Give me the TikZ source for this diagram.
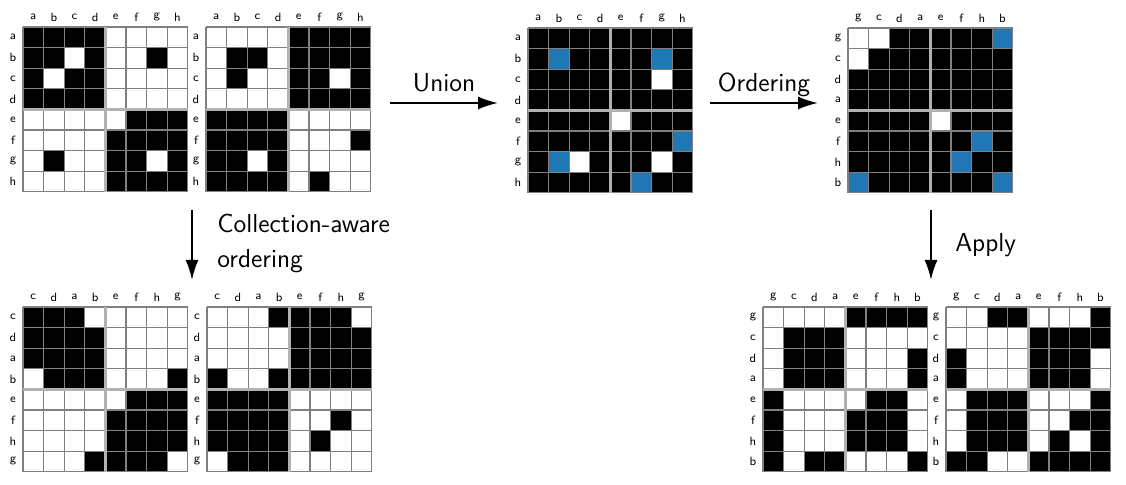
\documentclass[tikz,border=0pt]{standalone}
\usetikzlibrary{arrows.meta}
\definecolor{mplblue}{HTML}{1F77B4}
\tikzset{
  lbl/.style={font=\sffamily\fontsize{6}{7}\selectfont, inner sep=0pt},
  txt/.style={font=\sffamily\fontsize{13}{17.5}\selectfont, inner sep=0pt},
  cell0/.style={fill=white},
  cell1/.style={fill=black},
  cell2/.style={fill=mplblue},
  gridline/.style={gray, line width=0.6pt},
  midline/.style={gray!60, line width=1.2pt},
  bigarrow/.style={line width=1pt, -{Latex[length=10pt,width=6.5pt]}}
}
% name, x, y, labels, cells
\newcommand{\drawgrid}[5]{%
  \foreach \l [count=\k from 0] in {#4} {
    \node[lbl] (#1-c\k) at (#2+\k*20.6+10.3, #3-10) {\l};
    \node[lbl] (#1-r\k) at (#2-10, #3+\k*20.6+10.3) {\l};
  }
  \foreach \v [count=\i from 0] in {#5} {
    \pgfmathtruncatemacro\rr{\i/8}
    \pgfmathtruncatemacro\cc{\i-8*\rr}
    \fill[cell\v] (#2+\cc*20.6, #3+\rr*20.6) rectangle ++(20.6,20.6);
  }
  \foreach \k in {0,...,8} {
    \draw[gridline] (#2+\k*20.6, #3) -- ++(0,164.8);
    \draw[gridline] (#2, #3+\k*20.6) -- ++(164.8,0);
  }
  \draw[midline] (#2+82.4, #3) -- ++(0,164.8);
  \draw[midline] (#2, #3+82.4) -- ++(164.8,0);
}
\begin{document}
\begin{tikzpicture}[x=0.5pt, y=-0.5pt]
    \useasboundingbox (0,0) rectangle (1126,485);
    % input matrices
    \drawgrid{lhs}{23}{27}{a,b,c,d,e,f,g,h}{
      1,1,1,1,0,0,0,0, 1,1,0,1,0,0,1,0, 1,0,1,1,0,0,0,0, 1,1,1,1,0,0,0,0,
      0,0,0,0,0,1,1,1, 0,0,0,0,1,1,1,1, 0,1,0,0,1,1,0,1, 0,0,0,0,1,1,1,1}
    \drawgrid{rhs}{206}{27}{a,b,c,d,e,f,g,h}{
      0,0,0,0,1,1,1,1, 0,1,1,0,1,1,1,1, 0,1,0,0,1,1,0,1, 0,0,0,0,1,1,1,1,
      1,1,1,1,0,0,0,0, 1,1,1,1,0,0,0,1, 1,1,0,1,0,0,0,0, 1,1,1,1,0,1,0,0}
    % union and ordering
    \drawgrid{union}{528}{28}{a,b,c,d,e,f,g,h}{
      1,1,1,1,1,1,1,1, 1,2,1,1,1,1,2,1, 1,1,1,1,1,1,0,1, 1,1,1,1,1,1,1,1,
      1,1,1,1,0,1,1,1, 1,1,1,1,1,1,1,2, 1,2,0,1,1,1,0,1, 1,1,1,1,1,2,1,1}
    \drawgrid{order}{848}{28}{g,c,d,a,e,f,h,b}{
      0,0,1,1,1,1,1,2, 0,1,1,1,1,1,1,1, 1,1,1,1,1,1,1,1, 1,1,1,1,1,1,1,1,
      1,1,1,1,0,1,1,1, 1,1,1,1,1,1,2,1, 1,1,1,1,1,2,1,1, 2,1,1,1,1,1,1,2}
    % collection-aware ordering
    \drawgrid{lhsca}{23}{307}{c,d,a,b,e,f,h,g}{
      1,1,1,0,0,0,0,0, 1,1,1,1,0,0,0,0, 1,1,1,1,0,0,0,0, 0,1,1,1,0,0,0,1,
      0,0,0,0,0,1,1,1, 0,0,0,0,1,1,1,1, 0,0,0,0,1,1,1,1, 0,0,0,1,1,1,1,0}
    \drawgrid{rhsca}{207}{307}{c,d,a,b,e,f,h,g}{
      0,0,0,1,1,1,1,0, 0,0,0,0,1,1,1,1, 0,0,0,0,1,1,1,1, 1,0,0,1,1,1,1,1,
      1,1,1,1,0,0,0,0, 1,1,1,1,0,0,1,0, 1,1,1,1,0,1,0,0, 0,1,1,1,0,0,0,0}
    % applied ordering
    \drawgrid{lhsap}{763}{307}{g,c,d,a,e,f,h,b}{
      0,0,0,0,1,1,1,1, 0,1,1,1,0,0,0,0, 0,1,1,1,0,0,0,1, 0,1,1,1,0,0,0,1,
      1,0,0,0,0,1,1,0, 1,0,0,0,1,1,1,0, 1,0,0,0,1,1,1,0, 1,0,1,1,0,0,0,1}
    \drawgrid{rhsap}{946}{307}{g,c,d,a,e,f,h,b}{
      0,0,1,1,0,0,0,1, 0,0,0,0,1,1,1,1, 1,0,0,0,1,1,1,0, 1,0,0,0,1,1,1,0,
      0,1,1,1,0,0,0,1, 0,1,1,1,0,0,1,1, 0,1,1,1,0,1,0,1, 1,1,0,0,1,1,1,1}
    % arrows
    \coordinate (un1) at (390,103);
    \coordinate (un2) at (498,103);
    \coordinate (or1) at (710,103);
    \coordinate (or2) at (818,103);
    \coordinate (ca1) at (192,210);
    \coordinate (ca2) at (192,280);
    \coordinate (ap1) at (931,210);
    \coordinate (ap2) at (931,280);
    \draw[bigarrow] (un1) -- (un2);
    \draw[bigarrow] (or1) -- (or2);
    \draw[bigarrow] (ca1) -- (ca2);
    \draw[bigarrow] (ap1) -- (ap2);
    \node[txt, anchor=base] (untxt) at (444,92) {Union};
    \node[txt, anchor=base] (ortxt) at (764,92) {Ordering};
    \node[txt, anchor=base west, align=left] (catxt) at (217,268) {Collection-aware\\ordering};
    \node[txt, anchor=base west] (aptxt) at (955,252) {Apply};
\end{tikzpicture}
\end{document}
